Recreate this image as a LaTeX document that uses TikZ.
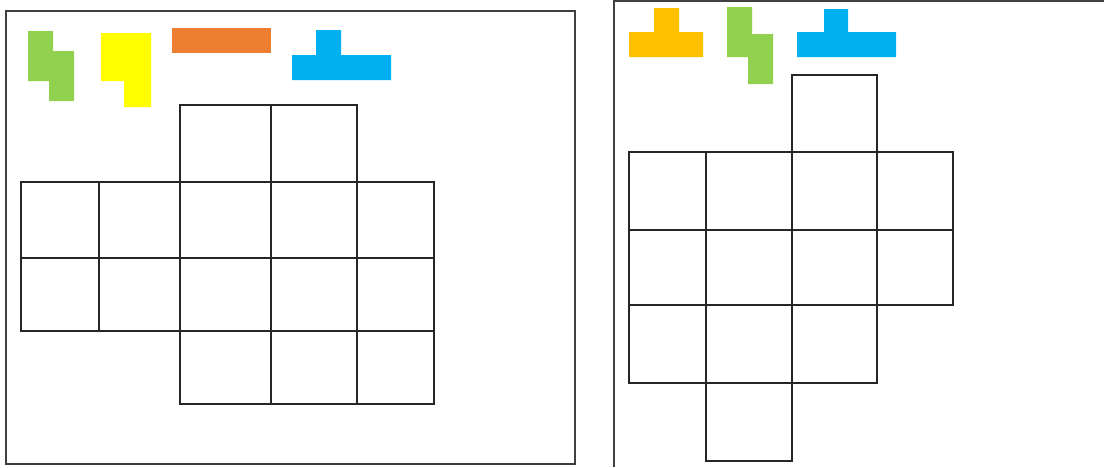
\documentclass[tikz,border=0pt]{standalone}
\usepackage{tikz}

\definecolor{pgreen}{RGB}{146,208,80}
\definecolor{pyellow}{RGB}{255,255,0}
\definecolor{porange}{RGB}{237,125,49}
\definecolor{pblue}{RGB}{0,176,240}
\definecolor{pamber}{RGB}{255,192,0}

\tikzset{
  frame/.style={draw=black!75, line width=1.4pt},
  cell/.style={draw=black!85, line width=1.3pt},
  piece/.style={draw=none}
}

\begin{document}
\begin{tikzpicture}[x=1pt,y=-1pt]
				\useasboundingbox (0,0) rectangle (1104,467);
				% Frames
				\draw[frame] (6,11) rectangle (575,464);
				\draw[frame] (614,467) -- (614,1) -- (1104,1);
				% Pieces, left
				\fill[pgreen] (28,31) -- (53,31) -- (53,51) -- (74,51) -- (74,101) -- (49,101) -- (49,81) -- (28,81) -- cycle;
				\fill[pyellow] (101,33) -- (151,33) -- (151,107) -- (124,107) -- (124,81) -- (101,81) -- cycle;
				\fill[porange] (172,28) rectangle (271,53);
				\fill[pblue] (316,30) -- (341,30) -- (341,55) -- (391,55) -- (391,80) -- (292,80) -- (292,55) -- (316,55) -- cycle;
				% Pieces, right
				\fill[pamber] (654,8) -- (679,8) -- (679,32) -- (703,32) -- (703,57) -- (629,57) -- (629,32) -- (654,32) -- cycle;
				\fill[pgreen] (727,7) -- (752,7) -- (752,34) -- (773,34) -- (773,84) -- (748,84) -- (748,57) -- (727,57) -- cycle;
				\fill[pblue] (824,9) -- (848,9) -- (848,32) -- (896,32) -- (896,57) -- (797,57) -- (797,32) -- (824,32) -- cycle;
				% Grid, left
				\foreach \xa/\xb in {180/271,271/357}
					\draw[cell] (\xa,105) rectangle (\xb,182);
				\foreach \ya/\yb in {182/258,258/331}
					\foreach \xa/\xb in {21/99,99/180,180/271,271/357,357/434}
						\draw[cell] (\xa,\ya) rectangle (\xb,\yb);
				\foreach \xa/\xb in {180/271,271/357,357/434}
					\draw[cell] (\xa,331) rectangle (\xb,404);
				% Grid, right
				\draw[cell] (792,75) rectangle (877,152);
				\foreach \ya/\yb in {152/230,230/305}
					\foreach \xa/\xb in {629/706,706/792,792/877,877/953}
						\draw[cell] (\xa,\ya) rectangle (\xb,\yb);
				\foreach \xa/\xb in {629/706,706/792,792/877}
					\draw[cell] (\xa,305) rectangle (\xb,383);
				\draw[cell] (706,383) rectangle (792,461);
\end{tikzpicture}
\end{document}
